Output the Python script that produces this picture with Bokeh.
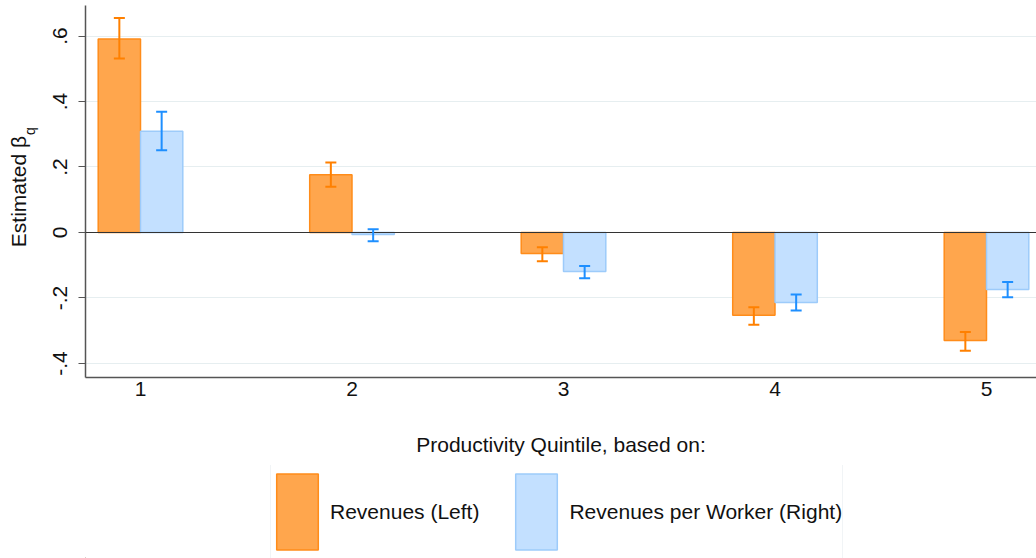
import numpy as np
from bokeh.plotting import figure
from bokeh.layouts import column
from bokeh.models import (Range1d, FixedTicker, Whisker, ColumnDataSource, Span,
                          Legend, LegendItem, TeeHead, LinearAxis)
from bokeh.embed import file_html
from bokeh.resources import INLINE

# ---- data ----
quintile = [1, 2, 3, 4, 5]
rev = [0.591, 0.176, -0.064, -0.253, -0.330]
rev_lo = [0.531, 0.140, -0.088, -0.282, -0.361]
rev_hi = [0.655, 0.214, -0.045, -0.228, -0.304]
rpw = [0.309, -0.006, -0.119, -0.214, -0.174]
rpw_lo = [0.251, -0.027, -0.140, -0.238, -0.198]
rpw_hi = [0.369, 0.010, -0.102, -0.189, -0.151]
yticks = [-0.4, -0.2, 0.0, 0.2, 0.4, 0.6]
ytick_labels = ["-.4", "-.2", "0", ".2", ".4", ".6"]
series_names = ["Revenues (Left)", "Revenues per Worker (Right)"]
x_title = "Productivity Quintile, based on:"
y_title = "Estimated \u03b2"
y_title_sub = "q"

FONT = "Liberation Sans"
TXT = "#111111"
ORANGE_FILL, ORANGE_LINE, ORANGE_ERR = "#FFA64D", "#FF8C1A", "#FF8000"
BLUE_FILL, BLUE_LINE, BLUE_ERR = "#C3E0FF", "#9DCBFA", "#1E8FFF"

q = np.array(quintile, dtype=float)
src = ColumnDataSource(dict(
    xl=q - 0.1, xr=q + 0.1,
    rev=rev, rev_lo=rev_lo, rev_hi=rev_hi,
    rpw=rpw, rpw_lo=rpw_lo, rpw_hi=rpw_hi,
))

X0, X1 = 0.73995, 5.23641
Y0, Y1 = -0.44275, 0.69313

p = figure(width=1036, height=465, output_backend="svg", toolbar_location=None,
           x_range=Range1d(X0, X1), y_range=Range1d(Y0, Y1),
           min_border_left=85, min_border_right=0, min_border_top=5,
           min_border_bottom=88)
p.outline_line_color = None
p.background_fill_color = "white"
p.border_fill_color = "white"

bar_styles = [dict(fill_color=ORANGE_FILL, line_color=ORANGE_LINE, line_width=1.5),
              dict(fill_color=BLUE_FILL, line_color=BLUE_LINE, line_width=1.5)]

# bars
r1 = p.vbar(x="xl", top="rev", bottom=0, width=0.2, source=src, **bar_styles[0])
r2 = p.vbar(x="xr", top="rpw", bottom=0, width=0.2, source=src, **bar_styles[1])

# zero line
p.add_layout(Span(location=0, dimension="width", line_color="#333333", line_width=1.2))

# error bars
for base, lo, hi, col in [("xl", "rev_lo", "rev_hi", ORANGE_ERR),
                          ("xr", "rpw_lo", "rpw_hi", BLUE_ERR)]:
    w = Whisker(source=src, base=base, lower=lo, upper=hi, dimension="height",
                line_color=col, line_width=2,
                upper_head=TeeHead(size=11, line_color=col, line_width=2),
                lower_head=TeeHead(size=11, line_color=col, line_width=2),
                level="overlay")
    p.add_layout(w)

# x axis
AX_COL = "#555555"
xa = p.xaxis[0]
xa.ticker = FixedTicker(ticks=quintile)
xa.major_tick_out = 0
xa.major_tick_in = 0
xa.minor_tick_line_color = None
xa.axis_line_color = AX_COL
xa.axis_line_width = 1.5
xa.major_label_text_font = FONT
xa.major_label_text_font_size = "21px"
xa.major_label_text_color = TXT
xa.major_label_standoff = 4
xa.axis_label = x_title
xa.axis_label_text_font = FONT
xa.axis_label_text_font_size = "21px"
xa.axis_label_text_font_style = "normal"
xa.axis_label_text_color = TXT
xa.axis_label_standoff = 34

# y axis (its own label carries the subscript "q", padded so that it
# sits just after the beta of the outer title)
ya = p.yaxis[0]
ya.ticker = FixedTicker(ticks=yticks)
ya.major_label_overrides = {t: s for t, s in zip(yticks, ytick_labels)}
ya.major_label_orientation = "vertical"
ya.major_tick_out = 7
ya.major_tick_in = 0
ya.minor_tick_line_color = None
ya.axis_line_color = AX_COL
ya.axis_line_width = 1.5
ya.major_tick_line_color = AX_COL
ya.major_tick_line_width = 1.2
ya.major_label_text_font = FONT
ya.major_label_text_font_size = "21px"
ya.major_label_text_color = TXT
ya.major_label_standoff = 11
ya.axis_label = "\u00a0" * 31 + y_title_sub
ya.axis_label_text_font = FONT
ya.axis_label_text_font_size = "14px"
ya.axis_label_text_font_style = "normal"
ya.axis_label_text_color = TXT
ya.axis_label_standoff = 13

# outer (label only) axis carrying "Estimated β"
ya2 = LinearAxis(ticker=FixedTicker(ticks=[0.0]), major_label_overrides={0.0: ""},
                 major_label_text_font_size="1px", axis_line_color=None,
                 major_tick_line_color=None, minor_tick_line_color=None,
                 major_tick_out=0, major_tick_in=0, minor_tick_out=0,
                 major_label_standoff=0,
                 axis_label=y_title, axis_label_text_font=FONT,
                 axis_label_text_font_size="21px", axis_label_text_font_style="normal",
                 axis_label_text_color=TXT, axis_label_standoff=-11)
p.add_layout(ya2, "left")

# grid
p.xgrid.grid_line_color = None
p.ygrid.ticker = FixedTicker(ticks=yticks)
p.ygrid.grid_line_color = "#e6eef0"
p.ygrid.grid_line_width = 1.2

# ---- legend strip below the chart ----
pl = figure(width=1036, height=93, output_backend="svg", toolbar_location=None,
            x_range=Range1d(100, 101), y_range=Range1d(100, 101),
            x_axis_location=None, y_axis_location=None,
            min_border_left=85, min_border_right=0, min_border_top=0,
            min_border_bottom=0)
pl.outline_line_color = None
pl.grid.grid_line_color = None
pl.background_fill_color = "white"
pl.border_fill_color = "white"
l1 = pl.vbar(x="xl", top="rev", bottom=0, width=0.2, source=src, **bar_styles[0])
l2 = pl.vbar(x="xr", top="rpw", bottom=0, width=0.2, source=src, **bar_styles[1])
# (legend area glyphs are drawn inset by 10% of the glyph box)
legend = Legend(items=[LegendItem(label=series_names[0], renderers=[l1]),
                       LegendItem(label=series_names[1], renderers=[l2])],
                orientation="horizontal", location=(185, -2),
                glyph_width=52, glyph_height=95, padding=0, spacing=31,
                label_standoff=7, label_text_font=FONT,
                label_text_font_size="21px", label_text_color=TXT,
                border_line_color="#e3eaee", border_line_width=1.2,
                background_fill_color="white", background_fill_alpha=1.0,
                margin=0)
pl.add_layout(legend)

layout = column(p, pl, spacing=0)
open("out.html", "w").write(file_html(layout, INLINE))
